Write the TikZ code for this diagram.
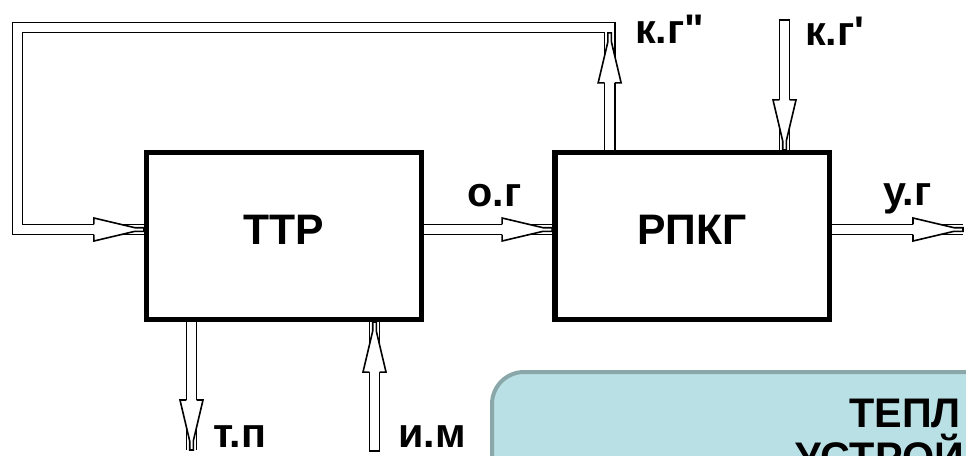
\documentclass[tikz,border=0pt]{standalone}
\usepackage{fontspec}
\setmainfont{Liberation Sans}
\usepackage{tikz}
\usetikzlibrary{positioning, calc, decorations.markings}
\definecolor{notefill}{HTML}{B9E0E4}
\definecolor{notestroke}{HTML}{8AA7AA}
% hollow arrow head, drawn in the marking frame (tip at origin)
\newcommand{\pipehead}{%
  \fill[white] (-50,11.5) -- (-9,1.8) -- (0,1.8) -- (0,-1.8) -- (-9,-1.8) -- (-50,-11.5) -- cycle;
  \draw[line width=1.2pt] (-50,5.1) -- (-50,11.5) -- (-9,1.8) -- (0,1.8) -- (0,-1.8) -- (-9,-1.8) -- (-50,-11.5) -- (-50,-5.1);}

\begin{document}
\begin{tikzpicture}[
        x=0.75pt, y=-0.75pt,
        block/.style={
            rectangle,
            draw,
            line width=4.1pt,
            minimum width=206pt,
            minimum height=125pt,
            inner sep=0pt,
            text depth=9pt,
            font=\bfseries\fontsize{32}{32}\selectfont
        },
        sig/.style={anchor=base west, inner sep=0pt, font=\bfseries\fontsize{31}{31}\selectfont},
        pipe/.style={draw, line width=1.2pt, double=white, double distance=6.4pt,
            postaction={decorate, decoration={markings, mark=at position 1 with {\pipehead}}}},
        loophead/.style={postaction={decorate, decoration={markings, mark=at position 87.75pt with {\pipehead}}}},
        capped/.style={postaction={decorate, decoration={markings, mark=at position 0 with {\draw[line width=1.2pt] (0,-5.1) -- (0,5.1);}}}},
        notebox/.style={fill=notefill, draw=notestroke, line width=3pt, rounded corners=24pt},
        notetext/.style={anchor=base west, inner sep=0pt, font=\bfseries\fontsize{31}{31}\selectfont}
    ]
        \useasboundingbox (0,0) rectangle (966,455);
        \clip (0,0) rectangle (966,455);

        % Nodes
        \node[block] (ttp) at (284,236) {ТТР};
        \node[block, right=96pt of ttp] (rpkg) {РПКГ};

        % Ends of the connectors
        \coordinate (kgout) at ($(rpkg.north)+(-82.5,0)$);
        \coordinate (loop) at (17.5,27.5);
        \coordinate (ttpin) at ($(ttp.west)+(0,-6.5)$);
        \coordinate (ogout) at ($(ttp.east)+(0,-6.5)$);
        \coordinate (ogin) at ($(rpkg.west)+(0,-6.5)$);
        \coordinate (ugout) at ($(rpkg.east)+(0,-6.5)$);
        \coordinate (ugend) at (963,229.5);
        \coordinate (kgin) at (784.5,20);
        \coordinate (tpend) at (191.5,450);
        \coordinate (imstart) at (374.5,451);

        % Arrows
        \draw[pipe, loophead] (kgout) -- (kgout |- loop) -- (loop) |- (ttpin);
        \draw[pipe] (ogout) -- (ogin);
        \draw[pipe] (ugout) -- (ugend);
        \draw[pipe, capped] (kgin) -- (kgin |- rpkg.north);
        \draw[pipe] (tpend |- ttp.south) -- (tpend);
        \draw[pipe, capped] (imstart) -- (imstart |- ttp.south);

        % Labels
        \node[sig] (kg2) at (635,43) {к.г\textquotedbl};
        \node[sig] (kg1) at (805,45) {к.г\textquotesingle};
        \node[sig] (og) at (467,206) {о.г};
        \node[sig] (ug) at (883,205) {у.г};
        \node[sig] (tp) at (213,447) {т.п};
        \node[sig] (im) at (398,447) {и.м};

        % Note
        \draw[notebox] (492,372) rectangle (1150,620);
        \node[notetext] (note1) at (849,427) {ТЕПЛ};
        \node[notetext] (note2) at (795,471) {УСТРОЙ};
    \end{tikzpicture}
\end{document}
